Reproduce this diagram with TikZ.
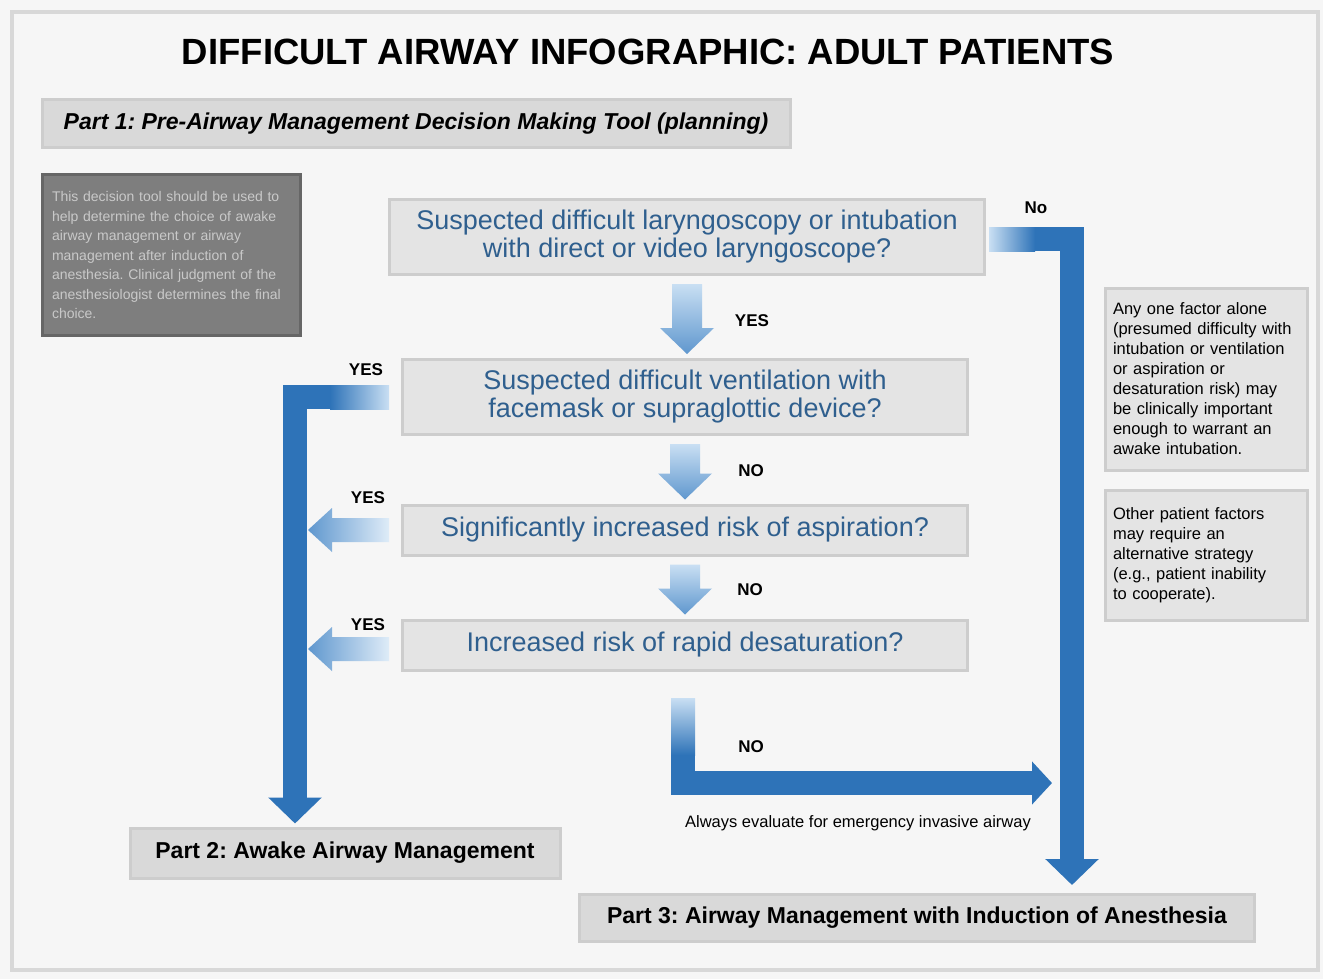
\documentclass[tikz,border=0pt]{standalone}
\usepackage{fontspec}
\setmainfont{Liberation Sans}
\usetikzlibrary{arrows.meta,calc}
\definecolor{bgc}{HTML}{F6F6F6}
\definecolor{framec}{HTML}{D8D8D8}
\definecolor{boxfill}{HTML}{E4E4E4}
\definecolor{boxline}{HTML}{CDCDCD}
\definecolor{partfill}{HTML}{D9D9D9}
\definecolor{darkfill}{HTML}{7E7E7E}
\definecolor{darkline}{HTML}{666666}
\definecolor{darktext}{HTML}{C9C9C9}
\definecolor{qtext}{HTML}{2F5F8E}
\definecolor{arrblue}{HTML}{2E73B8}
\definecolor{arrdark}{HTML}{1F4F82}
\definecolor{arrlight}{HTML}{C9DFF3}
\definecolor{arrmid}{HTML}{5F97CE}
\newcommand\dnarr[2]{\path[top color=arrlight, bottom color=arrmid] let \p1=#1, \p2=#2 in
  (\x1-15pt,\y1-8pt) -- (\x1+15pt,\y1-8pt) -- (\x1+15pt,\y2+30pt) -- (\x1+27pt,\y2+30pt) --
  (\x1,\y2+4pt) -- (\x1-27pt,\y2+30pt) -- (\x1-15pt,\y2+30pt) -- cycle;}
\newcommand\lfarr[2]{\path[left color=arrmid, right color=arrlight!60!white] let \p1=#1, \p2=#2 in
  (\x1,\y1+12pt) -- (\x2+24pt,\y1+12pt) -- (\x2+24pt,\y1+22pt) -- (\x2,\y1) --
  (\x2+24pt,\y1-22pt) -- (\x2+24pt,\y1-12pt) -- (\x1,\y1-12pt) -- cycle;}
\begin{document}
\frenchspacing
\begin{tikzpicture}[x=1pt,y=-1pt,
  qbox/.style={fill=boxfill, draw=boxline, line width=3pt, align=center, text=qtext,
    font=\fontsize{27}{28}\selectfont, inner sep=0pt},
  partbox/.style={fill=partfill, draw=boxline, line width=3pt, inner sep=0pt,
    font=\fontsize{23}{26}\selectfont\bfseries},
  sidebox/.style={fill=boxfill, draw=boxline, line width=3pt, inner sep=0pt,
    text width=186pt, align=left, font=\fontsize{16.5}{20}\selectfont},
  lbl/.style={font=\fontsize{17}{19}\selectfont\bfseries},
  bigarr/.style={draw=arrblue, line width=24pt, line join=miter,
    -{Triangle[length=26pt,width=52pt]}},
]
\useasboundingbox (0,0) rectangle (1323,979);
\fill[bgc] (0,0) rectangle (1323,979);
\draw[framec, line width=4pt] (12,12) rectangle (1318,970);

\node[font=\fontsize{36.5}{40}\selectfont\bfseries] (title) at (648,52) {DIFFICULT AIRWAY INFOGRAPHIC: ADULT PATIENTS};

\node[partbox, minimum width=748pt, minimum height=48pt] (part1) at (416,124)
  {\itshape Part 1: Pre-Airway Management Decision Making Tool (planning)};

\node[fill=darkfill, draw=darkline, line width=3pt, minimum width=258pt, minimum height=160pt,
  text width=238pt, align=left, text=darktext, font=\fontsize{14}{19.5}\selectfont, inner sep=0pt] (gray) at (171,255)
  {This decision tool should be used to\\help determine the choice of awake\\airway management or airway\\management after induction of\\anesthesia. Clinical judgment of the\\anesthesiologist determines the final\\choice.};

\node[qbox, minimum width=595pt, minimum height=75pt] (q1) at (687,237)
  {Suspected difficult laryngoscopy or intubation\\with direct or video laryngoscope?};
\node[qbox, minimum width=565pt, minimum height=75pt] (q2) at (685,397)
  {Suspected difficult ventilation with\\facemask or supraglottic device?};
\node[qbox, minimum width=565pt, minimum height=50pt] (q3) at (685,530)
  {Significantly increased risk of aspiration?};
\node[qbox, minimum width=565pt, minimum height=50pt] (q4) at (685,645)
  {Increased risk of rapid desaturation?};

\node[sidebox, minimum width=202pt, minimum height=182pt] (r1) at (1206,379)
  {Any one factor alone\\(presumed difficulty with\\intubation or ventilation\\or aspiration or\\desaturation risk) may\\be clinically important\\enough to warrant an\\awake intubation.};
\node[sidebox, minimum width=202pt, minimum height=130pt] (r2) at (1206,555)
  {Other patient factors\\may require an\\alternative strategy\\(e.g., patient inability\\to cooperate).};

\node[partbox, minimum width=430pt, minimum height=50pt] (part2) at (345,853)
  {Part 2: Awake Airway Management};
\node[partbox, minimum width=675pt, minimum height=47pt] (part3) at (917,918)
  {Part 3: Airway Management with Induction of Anesthesia};

% down arrows
\dnarr{(q1.south)}{(q2.north)}
\dnarr{(q2.south)}{(q3.north)}
\dnarr{(q3.south)}{(q4.north)}

% left L arrow
\coordinate (lcorner) at (295,397);
\coordinate (lx) at (308,0);
\draw[bigarr] ($(q2.west)+(-14,0)$) -- (lcorner) -- ($(lcorner |- part2.north)+(0,-3)$);
\path[left color=arrblue, right color=arrlight] (330,385) rectangle (389,409);

% left small arrows
\lfarr{($(q3.west)+(-12,0)$)}{(q3.west -| lx)}
\lfarr{($(q4.west)+(-12,4)$)}{($(q4.west -| lx)+(0,4)$)}

% right L arrow
\coordinate (rcorner) at (1072,239);
\draw[bigarr] ($(q1.east)+(4,2)$) -- (rcorner) -- ($(rcorner |- part3.north)+(0,-8)$);
\path[left color=arrlight, right color=arrblue] (989,227) rectangle (1035,251);

% bottom L arrow
\coordinate (bcorner) at (683,783);
\coordinate (btip) at (1052,783);
\draw[draw=arrblue, line width=24pt, line join=miter, -{Triangle[length=20pt,width=42pt]}]
  ($(q4.south)+(-2,28)$) -- (bcorner) -- (btip);
\path[top color=arrlight, bottom color=arrblue] (671,698) rectangle (695,755);

% labels
\node[lbl] (yes1) at (752,321) {YES};
\node[lbl] (no1) at (751,471) {NO};
\node[lbl] (no2) at (750,590) {NO};
\node[lbl] (no3) at (751,747) {NO};
\node[lbl] (yes2) at (366,370) {YES};
\node[lbl] (yes3) at (368,498) {YES};
\node[lbl] (yes4) at (368,625) {YES};
\node[lbl] (no0) at (1036,208) {No};
\node[font=\fontsize{16.5}{18}\selectfont] (always) at (858,823) {Always evaluate for emergency invasive airway};
\end{tikzpicture}
\end{document}
